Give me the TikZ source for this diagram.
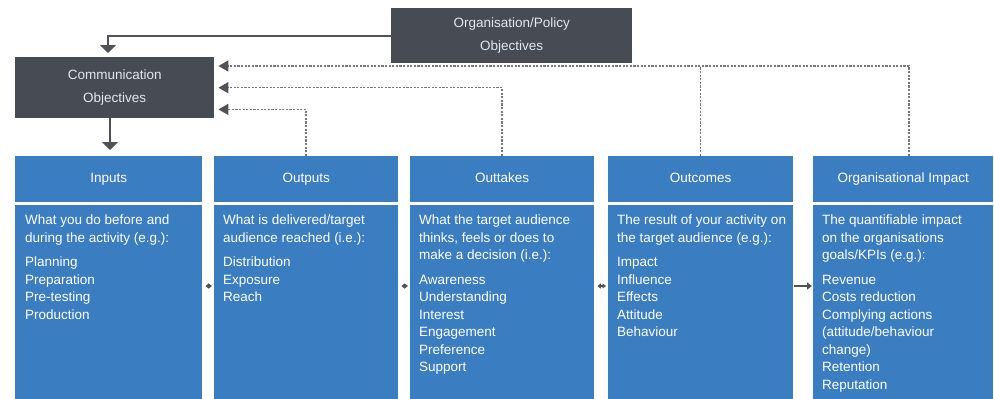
\documentclass[tikz,border=0pt]{standalone}
\usepackage{fontspec}
\setmainfont{Liberation Sans}
\usetikzlibrary{arrows.meta,calc}
\definecolor{boxblue}{RGB}{58,125,193}
\definecolor{darkfill}{RGB}{71,75,84}
\definecolor{lighttext}{RGB}{222,232,242}
\definecolor{dashgray}{RGB}{120,120,124}
\definecolor{arrowgray}{RGB}{80,82,88}
\begin{document}
\begin{tikzpicture}[x=1pt,y=-1pt,
  objbox/.style={fill=darkfill, draw=none, anchor=north west, inner sep=0pt, text=lighttext, align=center, font=\fontsize{13.5}{23}\selectfont},
  hdr/.style={fill=boxblue, draw=none, anchor=north west, inner sep=0pt, minimum height=46pt, text=white, text height=9.5pt, text depth=2.5pt, font=\fontsize{13.5}{16}\selectfont},
  bodybox/.style={fill=boxblue, draw=none, anchor=north west, inner sep=0pt, minimum height=200pt},
  bodytext/.style={anchor=north west, inner sep=0pt, align=left, text=white, font=\fontsize{13.5}{17.5}\selectfont},
  arr/.style={draw=arrowgray, line width=1.8pt, -{Triangle[length=8pt,width=16pt]}},
  dsh/.style={draw=dashgray, line width=1.5pt, dash pattern=on 2.2pt off 1.4pt, -{Triangle[length=10pt,width=11pt,color=arrowgray]}},
  dshline/.style={draw=dashgray, line width=1.5pt, dash pattern=on 2.2pt off 1.4pt},
  dbl/.style={draw=arrowgray, line width=1.1pt, {Triangle[length=3.5pt,width=5pt]}-{Triangle[length=3.5pt,width=5pt]}},
  sgl/.style={draw=arrowgray, line width=1.6pt, -{Triangle[length=5pt,width=7pt]}}
]
\useasboundingbox (0,0) rectangle (994,399);

% dark objective boxes
\node[objbox, minimum width=241pt, minimum height=55pt] (org) at (391,8) {Organisation/Policy\\Objectives};
\node[objbox, minimum width=199pt, minimum height=61pt] (comm) at (15,57) {Communication\\Objectives};

% headers
\node[hdr, minimum width=187pt] (h1) at (15,156) {Inputs};
\node[hdr, minimum width=184pt] (h2) at (214,156) {Outputs};
\node[hdr, minimum width=184pt] (h3) at (410,156) {Outtakes};
\node[hdr, minimum width=185pt] (h4) at (608,156) {Outcomes};
\node[hdr, minimum width=180pt] (h5) at (813,156) {Organisational Impact};

% bodies
\node[bodybox, minimum width=187pt] (b1) at (15,205) {};
\node[bodybox, minimum width=184pt] (b2) at (214,205) {};
\node[bodybox, minimum width=184pt] (b3) at (410,205) {};
\node[bodybox, minimum width=185pt] (b4) at (608,205) {};
\node[bodybox, minimum width=180pt] (b5) at (813,205) {};

% body texts
\node[bodytext] (t1) at ($(b1.north west)+(10,10)$) {What you do before and\\during the activity (e.g.):\\[7pt]Planning\\Preparation\\Pre-testing\\Production};
\node[bodytext] (t2) at ($(b2.north west)+(9,10)$) {What is delivered/target\\audience reached (i.e.):\\[7pt]Distribution\\Exposure\\Reach};
\node[bodytext] (t3) at ($(b3.north west)+(9,10)$) {What the target audience\\thinks, feels or does to\\make a decision (i.e.):\\[7pt]Awareness\\Understanding\\Interest\\Engagement\\Preference\\Support};
\node[bodytext] (t4) at ($(b4.north west)+(9,10)$) {The result of your activity on\\the target audience (e.g.):\\[7pt]Impact\\Influence\\Effects\\Attitude\\Behaviour};
\node[bodytext] (t5) at ($(b5.north west)+(9,10)$) {The quantifiable impact\\on the organisations\\goals/KPIs (e.g.):\\[7pt]Revenue\\Costs reduction\\Complying actions\\(attitude/behaviour\\change)\\Retention\\Reputation};

% solid arrows
\draw[arr] (org.west) -| ($(comm.north west)+(93,-4)$);
\draw[arr] ($(comm.south west)+(95,0)$) -- ($(h1.north west)+(95,-6)$);

% dashed feedback lines
\coordinate (d1) at ($(comm.north east)+(4,9)$);
\draw[dsh] ([xshift=6pt]h5.north) |- (d1);
\draw[dshline] (h4.north) -- (h4.north |- d1);
\draw[dsh] (h3.north) |- ([xshift=4pt]comm.east);
\draw[dsh] (h2.north) |- ($(comm.south east)+(4,-9)$);

% arrows between columns
\draw[dbl] ($(b1.north east)+(3,81)$) -- ($(b2.north west)+(-2,81)$);
\draw[dbl] ($(b2.north east)+(3,81)$) -- ($(b3.north west)+(-2,81)$);
\draw[dbl] ($(b3.north east)+(3,81)$) -- ($(b4.north west)+(-2,81)$);
\draw[sgl] ($(b4.north east)+(1,81)$) -- ($(b5.north west)+(-1,81)$);
\end{tikzpicture}
\end{document}
